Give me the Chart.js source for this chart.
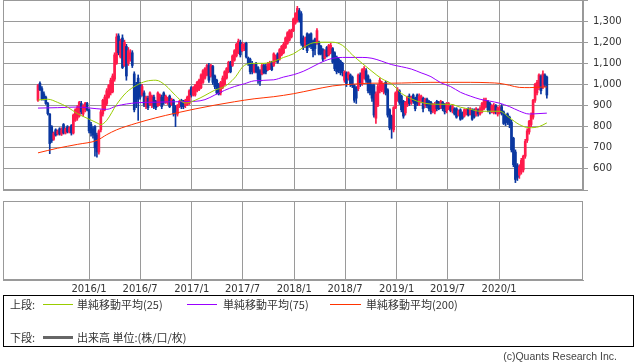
<!DOCTYPE html>
<html><head><meta charset="utf-8">
<script src="https://cdn.jsdelivr.net/npm/chart.js@4/dist/chart.umd.min.js"></script>
<style>
html,body{margin:0;padding:0;background:#fff;width:638px;height:362px;overflow:hidden;position:relative;}
canvas{position:absolute;left:0;}
.t{position:absolute;font-family:'Noto Sans CJK JP',sans-serif;font-size:11px;color:#333;line-height:14px;white-space:nowrap;}
.ln{position:absolute;}
#legend{position:absolute;left:3px;top:295px;width:629px;height:50px;border:1px solid #000;}
#copy{position:absolute;right:21px;top:350px;font-family:'Liberation Sans',Arial,sans-serif;font-size:10.5px;color:#444;white-space:nowrap;}
</style></head><body>
<canvas id="up" width="638" height="191" style="top:0"></canvas>
<canvas id="low" width="638" height="100" style="top:196px"></canvas>
<div id="legend"></div>
<div class="t" style="left:10px;top:297px">上段:</div>
<div class="ln" style="left:43px;top:304px;width:30px;height:1px;background:#99cc00"></div>
<div class="t" style="left:77px;top:297px">単純移動平均(25)</div>
<div class="ln" style="left:187px;top:304px;width:30px;height:1px;background:#9900ff"></div>
<div class="t" style="left:223px;top:297px">単純移動平均(75)</div>
<div class="ln" style="left:330px;top:304px;width:31px;height:1px;background:#ff3300"></div>
<div class="t" style="left:366px;top:297px">単純移動平均(200)</div>
<div class="t" style="left:10px;top:330px">下段:</div>
<div class="ln" style="left:43px;top:336px;width:30px;height:3px;background:#666"></div>
<div class="t" style="left:77px;top:330px">出来高 単位:(株/口/枚)</div>
<div id="copy">(c)Quants Research Inc.</div>
<script>
// ---- data (weekly candles, first week ending 2015-07-03) ----
const firstWeek = '2015-07-03';
const tickLabels = ['2016/1','2016/7','2017/1','2017/7','2018/1','2018/7','2019/1','2019/7','2020/1'];
const opens = [925,1005,980,955,940,910,860,800,740,785,765,790,765,810,770,800,775,805,770,830,840,850,910,860,880,910,880,810,790,800,760,680,785,860,880,910,940,960,965,1025,1100,1230,1130,1220,1090,1180,1100,1120,1150,1050,1000,1030,1000,950,960,895,935,905,900,940,920,900,910,940,960,915,915,945,905,925,890,860,900,925,920,900,905,910,985,950,950,970,975,985,1010,1030,1045,1090,1040,1085,1040,1020,1000,960,985,1000,1030,1060,1105,1090,1115,1135,1150,1200,1160,1170,1195,1125,1120,1100,1060,1100,1080,1065,1050,1090,1085,1070,1075,1105,1090,1110,1145,1120,1140,1150,1175,1195,1210,1225,1255,1290,1300,1350,1335,1220,1180,1240,1235,1240,1205,1215,1195,1200,1180,1165,1125,1175,1140,1150,1170,1150,1130,1120,1110,1100,1020,1055,1030,1045,1035,995,985,980,1045,1005,1030,1065,1040,1020,995,995,840,900,970,975,965,1010,975,880,850,785,890,930,970,945,920,865,905,945,915,950,935,950,905,925,935,900,930,920,915,875,870,920,915,890,915,905,875,885,895,875,885,885,855,880,865,850,860,885,860,880,880,855,880,860,870,885,895,920,910,870,865,900,860,865,895,870,850,860,845,820,745,680,615,570,585,595,660,735,775,810,845,925,960,985,1040,990,1045,1035];
const highs = [1000,1012,990,965,945,915,862,805,775,790,785,795,795,815,795,805,800,810,860,885,900,920,920,905,915,915,885,820,800,805,770,785,880,930,950,980,1000,1030,1050,1150,1240,1240,1215,1235,1210,1190,1175,1165,1160,1060,1010,1045,1010,1000,970,945,945,965,950,950,925,965,955,950,965,950,940,950,935,930,900,905,925,930,925,930,945,975,990,990,1000,1015,1025,1050,1070,1080,1095,1100,1095,1090,1045,1025,1005,1015,1040,1065,1080,1110,1110,1140,1165,1195,1215,1210,1200,1195,1200,1130,1125,1110,1095,1105,1085,1070,1100,1095,1095,1105,1110,1110,1150,1140,1150,1170,1185,1200,1225,1250,1260,1262,1315,1340,1370,1360,1345,1230,1225,1245,1240,1245,1210,1220,1265,1205,1185,1170,1165,1180,1190,1195,1175,1155,1135,1125,1115,1105,1065,1060,1060,1050,1040,1000,990,1050,1055,1075,1085,1075,1045,1025,1000,1000,965,1000,1030,1015,1005,1015,980,885,855,895,965,985,975,950,925,920,945,955,945,955,940,955,955,950,940,935,935,925,920,910,915,925,920,925,920,910,915,915,900,905,890,890,880,885,870,885,885,890,890,885,885,890,885,895,915,935,935,925,915,905,910,905,895,900,905,875,860,865,850,830,750,690,625,620,650,665,740,790,830,865,930,1005,1020,1050,1045,1065,1050,1040];
const lows = [920,970,925,925,905,855,672,725,735,755,760,760,758,765,765,770,770,760,765,825,830,845,860,850,870,875,770,755,745,660,655,670,775,850,875,900,935,950,960,1015,1095,1140,1125,1075,1085,1020,1090,1110,1080,870,890,830,930,945,895,885,880,900,890,885,880,895,900,885,905,910,905,890,900,850,800,850,890,885,885,890,900,905,940,945,945,965,970,980,1005,1025,1040,1010,1035,1000,980,955,950,950,980,995,1025,1055,1055,1085,1110,1130,1145,1130,1155,1160,1125,1090,1050,1050,1055,1055,1005,995,1045,1050,1050,1065,1070,1065,1085,1105,1100,1115,1135,1145,1170,1190,1205,1220,1250,1285,1295,1295,1185,1165,1175,1150,1175,1170,1130,1140,1190,1140,1140,1110,1120,1130,1135,1145,1100,1065,1050,1055,1045,1040,1010,990,1020,990,985,915,910,970,990,995,1025,1010,960,950,920,845,815,895,960,965,955,950,845,785,745,775,885,920,905,870,840,855,895,900,905,910,875,900,900,915,870,890,890,875,860,865,860,875,880,885,875,860,865,880,870,865,855,840,850,830,835,845,855,850,855,830,840,850,850,855,865,880,890,870,860,865,860,860,850,860,855,810,805,810,795,680,610,535,545,555,575,585,650,725,765,800,835,915,950,975,955,980,990,935];
const closes = [995,975,930,935,910,862,720,735,770,760,780,765,785,770,790,775,795,770,855,880,890,915,870,900,910,880,780,770,760,700,680,780,870,925,940,970,995,1020,1040,1140,1225,1150,1205,1080,1200,1040,1160,1150,1090,880,910,930,940,990,905,940,890,960,945,895,890,960,950,895,915,945,935,895,930,860,860,900,920,895,895,925,940,970,950,985,995,1010,1020,1045,1065,1075,1090,1020,1090,1010,990,960,955,1010,1030,1060,1075,1105,1060,1135,1160,1190,1205,1140,1190,1190,1130,1100,1060,1060,1090,1060,1025,1015,1090,1055,1060,1100,1105,1070,1145,1135,1105,1165,1180,1190,1220,1245,1255,1255,1310,1335,1360,1305,1195,1175,1220,1160,1185,1180,1160,1170,1255,1145,1145,1120,1160,1135,1185,1185,1105,1075,1060,1065,1055,1065,1060,1005,1055,1000,995,925,935,1045,1000,1070,1075,1020,970,960,935,855,955,990,1020,1005,995,960,855,795,790,890,960,975,915,880,850,915,940,910,940,920,885,910,945,945,885,930,900,885,870,905,905,885,885,920,885,870,910,910,875,895,860,845,875,835,840,880,880,855,885,835,845,885,860,885,910,925,925,880,870,900,900,870,890,890,865,815,820,820,810,690,620,550,560,610,640,660,730,780,825,855,925,1000,1010,1045,970,1050,1000,950];
// moving averages: week index -> value
const ma25Weeks = [0,5,10,15,20,25,30,32,35,40,45,50,55,60,65,70,75,80,85,90,95,100,105,110,115,120,125,130,135,140,145,150,155,160,165,170,175,180,185,190,195,200,205,210,215,220,225,230,235,240,245,250,255,259];
const ma25 = [926,930,915,893,862,840,818,810,830,905,962,995,1015,1020,995,948,912,925,948,973,990,1030,1090,1100,1100,1110,1128,1145,1175,1197,1200,1200,1185,1140,1100,1062,1027,1003,958,932,915,907,906,906,892,883,873,873,873,842,810,795,800,818];
const ma75Weeks = [0,10,20,30,35,40,50,60,70,80,85,90,95,100,105,110,120,125,130,135,140,145,150,155,165,170,175,180,185,190,195,200,205,210,215,220,225,230,235,240,245,250,255,259];
const ma75 = [888,890,893,885,882,898,913,916,918,920,928,950,972,990,1003,1017,1022,1035,1046,1062,1085,1108,1124,1128,1128,1124,1110,1094,1084,1073,1055,1037,1008,990,963,945,930,921,911,895,874,860,862,864];
const ma200Weeks = [0,10,20,30,35,40,50,60,70,80,90,100,110,120,130,140,150,160,170,180,190,200,210,220,230,235,240,245,250,255,259];
const ma200 = [676,698,716,735,762,785,816,842,864,884,902,918,932,942,956,975,993,1001,1006,1006,1008,1010,1010,1010,1008,1005,996,986,985,987,988];
const volumes = []; // volume panel is empty in the reference

// ---- derived ----
const DAY = 864e5;
const start = new Date(firstWeek + 'T00:00:00Z').getTime();
const tickWeeks = tickLabels.map(l => { const [y, m] = l.split('/').map(Number); return (Date.UTC(y, m - 1, 1) - start) / (7 * DAY); });
const xMin = -17.8, xMax = 277.4;
const UP = '#ff1a4b', DOWN = '#0a37a0';
const candleColors = opens.map((o, i) => closes[i] >= o ? UP : DOWN);
const bodies = opens.map((o, i) => ({x: i, y: [o, closes[i]]}));
const wicks = lows.map((l, i) => ({x: i, y: [l, highs[i]]}));
const pts = (ws, vs) => ws.map((w, k) => ({x: w, y: vs[k]}));

const frame = {id: 'frame', beforeDatasetsDraw(c) {
  const {ctx, chartArea: a} = c; ctx.save(); ctx.strokeStyle = '#999'; ctx.lineWidth = 1;
  ctx.strokeRect(a.left + 0.5, a.top + 0.5, a.right - a.left - 1, a.bottom - a.top - 1); ctx.restore();
}};
const noPad = s => { s.paddingTop = 0; s.paddingBottom = 0; s.paddingLeft = 0; s.paddingRight = 0; };

const gridC = '#9a9a9a';
const lineDs = (data, color) => ({type: 'line', data, borderColor: color, borderWidth: 1, pointRadius: 0, fill: false, cubicInterpolationMode: 'monotone'});

new Chart(document.getElementById('up'), {
  type: 'bar',
  data: {datasets: [
    lineDs(pts(ma25Weeks, ma25), '#99cc00'),
    lineDs(pts(ma75Weeks, ma75), '#9900ff'),
    lineDs(pts(ma200Weeks, ma200), '#ff3300'),
    {type: 'bar', data: bodies, backgroundColor: candleColors, barThickness: 2, grouped: false, borderWidth: 0},
    {type: 'bar', data: wicks, backgroundColor: candleColors, barThickness: 1, grouped: false, borderWidth: 0}
  ]},
  options: {
    responsive: false, animation: false, devicePixelRatio: 1,
    layout: {padding: {left: 3, top: 0, right: 0, bottom: 1}, autoPadding: false},
    plugins: {legend: {display: false}, tooltip: {enabled: false}},
    scales: {
      x: {type: 'linear', min: xMin, max: xMax, offset: false,
        grid: {color: gridC, offset: false, drawTicks: false},
        border: {color: gridC},
        ticks: {display: false},
        afterBuildTicks: s => { s.ticks = tickWeeks.map(v => ({value: v})); },
        afterFit: s => { s.height = 0; noPad(s); }},
      y: {position: 'right', min: 500, max: 1400,
        ticks: {stepSize: 100, padding: 5, color: '#333', font: {family: 'DejaVu Sans', size: 10},
          callback: v => (v > 500 && v < 1400) ? v.toLocaleString('en-US') : ''},
        grid: {color: gridC, tickLength: 5, drawTicks: true},
        border: {color: gridC},
        afterFit: s => { s.width = 55; noPad(s); }}
    }
  },
  plugins: [frame]
});

new Chart(document.getElementById('low'), {
  type: 'bar',
  data: {datasets: [{type: 'bar', data: volumes, backgroundColor: '#666'}]},
  options: {
    responsive: false, animation: false, devicePixelRatio: 1,
    layout: {padding: {left: 3, top: 5, right: 55, bottom: 0}, autoPadding: false},
    plugins: {legend: {display: false}, tooltip: {enabled: false}},
    scales: {
      x: {type: 'linear', min: xMin, max: xMax, offset: false,
        grid: {color: gridC, offset: false, drawTicks: false},
        border: {color: gridC},
        ticks: {color: '#333', padding: 3, maxRotation: 0, autoSkip: false, font: {family: 'DejaVu Sans', size: 10},
          callback: (v, i) => tickLabels[i]},
        afterBuildTicks: s => { s.ticks = tickWeeks.map(v => ({value: v})); },
        afterFit: s => { s.height = 16; noPad(s); }},
      y: {display: false, min: 0, max: 1}
    }
  },
  plugins: [frame]
});
</script>
</body></html>
